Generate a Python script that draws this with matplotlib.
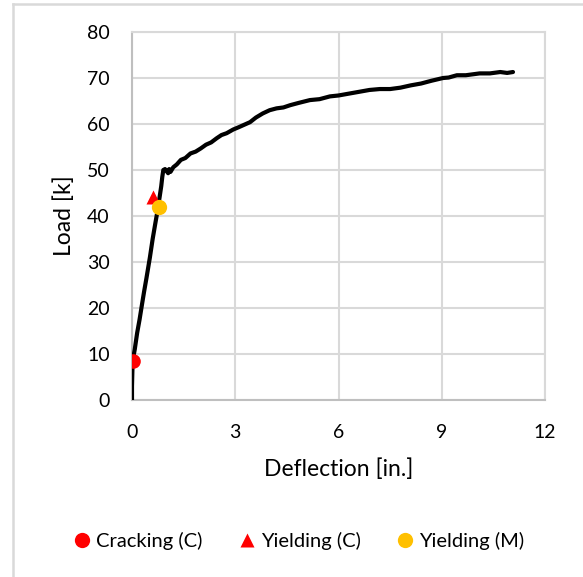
import matplotlib
matplotlib.use("Agg")
import matplotlib.pyplot as plt
from matplotlib.lines import Line2D

plt.rcParams['font.family'] = ['Lato', 'DejaVu Sans']

# Load-deflection response
deflection = [0.00, 0.00, 0.01, 0.02, 0.08, 0.15, 0.22, 0.28, 0.35, 0.42, 0.52, 0.60,
              0.68, 0.75, 0.80, 0.85, 0.88, 0.91, 0.96, 1.00, 1.05, 1.08, 1.12, 1.20,
              1.30, 1.42, 1.55, 1.70, 1.85, 2.00, 2.15, 2.30, 2.46, 2.60, 2.75, 2.94,
              3.10, 3.25, 3.43, 3.60, 3.80, 4.00, 4.20, 4.40, 4.60, 4.85, 5.17, 5.45,
              5.75, 6.00, 6.30, 6.60, 6.90, 7.20, 7.50, 7.80, 8.10, 8.40, 8.70, 9.04,
              9.20, 9.44, 9.70, 10.10, 10.40, 10.70, 10.90, 11.07]
load = [0.0, 3.0, 6.0, 8.5, 11.0, 14.6, 17.5, 20.3, 23.5, 26.5, 31.0, 35.0,
        38.5, 41.5, 44.0, 46.5, 48.5, 50.0, 50.2, 49.8, 49.3, 50.2, 49.6, 50.6,
        51.2, 52.2, 52.6, 53.6, 54.0, 54.7, 55.5, 56.0, 56.9, 57.6, 58.0, 58.8,
        59.3, 59.8, 60.4, 61.4, 62.3, 63.0, 63.4, 63.6, 64.1, 64.6, 65.2, 65.4,
        66.0, 66.2, 66.6, 67.0, 67.4, 67.6, 67.6, 67.9, 68.4, 68.8, 69.4, 70.0,
        70.1, 70.6, 70.6, 71.0, 71.0, 71.3, 71.1, 71.3]

# Key points
crack_c = (0.02, 8.5)
yield_c = (0.62, 44.2)
yield_m = (0.79, 42.0)

x_ticks = [0, 3, 6, 9, 12]
y_ticks = [0, 10, 20, 30, 40, 50, 60, 70, 80]

W, H = 583, 577
fig = plt.figure(figsize=(W / 100, H / 100), dpi=100)
ax = fig.add_axes([132 / W, 1 - 400 / H, (545 - 132) / W, (400 - 32) / H])

grid_c = '#d9d9d9'
ax.plot(deflection, load, color='black', lw=3.0, solid_capstyle='round',
        solid_joinstyle='round', zorder=3)
ax.plot(*crack_c, 'o', color='#ff0000', ms=10.5, mec='none', zorder=4)
ax.plot(*yield_c, '^', color='#ff0000', ms=9.5, mec='none', zorder=4)
ax.plot(*yield_m, 'o', color='#ffc000', ms=11, mec='none', zorder=5)

ax.set_xlim(0, 12)
ax.set_ylim(0, 80)
ax.set_xticks(x_ticks)
ax.set_yticks(y_ticks)
ax.grid(True, color=grid_c, lw=1.5)
ax.set_axisbelow(True)
for s in ax.spines.values():
    s.set_color(grid_c)
    s.set_linewidth(1.5)
ax.spines['bottom'].set_color('#bfbfbf')
ax.spines['left'].set_color('#bfbfbf')
ax.tick_params(length=0, labelsize=14, labelcolor='black')
ax.tick_params(axis='x', pad=17)
ax.tick_params(axis='y', pad=16)

ax.set_xlabel('Deflection [in.]', fontsize=16.5, labelpad=13)
ax.set_ylabel('Load [k]', fontsize=16.5, labelpad=9)

handles = [
    Line2D([], [], ls='none', marker='o', color='#ff0000', ms=11, mec='none'),
    Line2D([], [], ls='none', marker='^', color='#ff0000', ms=10, mec='none'),
    Line2D([], [], ls='none', marker='o', color='#ffc000', ms=11, mec='none'),
]
fig.legend(handles, ['Cracking (C)', 'Yielding (C)', 'Yielding (M)'],
           loc='center', bbox_to_anchor=(299 / W, 1 - 541 / H), ncol=3,
           frameon=False, fontsize=14.5, handlelength=0.8, handletextpad=0.3,
           columnspacing=1.8)

# chart-area border (left and top edges visible)
fig.add_artist(Line2D([13 / W, 13 / W], [0, 1 - 3.5 / H], transform=fig.transFigure,
                      color=grid_c, lw=1.8))
fig.add_artist(Line2D([13 / W, 1], [1 - 3.5 / H, 1 - 3.5 / H], transform=fig.transFigure,
                      color=grid_c, lw=1.8))

fig.savefig('out.png', dpi=100)
